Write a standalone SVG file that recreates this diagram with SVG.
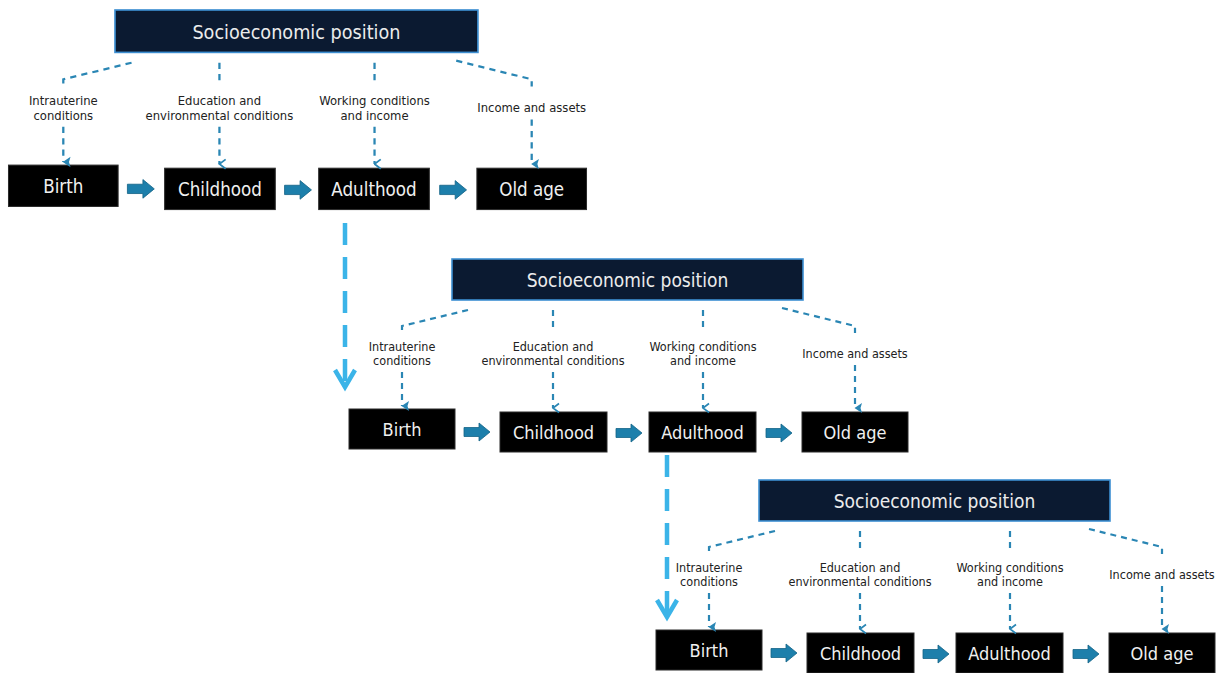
<svg xmlns="http://www.w3.org/2000/svg" width="1222" height="673" viewBox="0 0 1222 673">
  <style>
    .sep rect { fill: #0b1a31; stroke: #3d8fd2; stroke-width: 1.6; }
    .sep text { fill: #ececec; font-family: "DejaVu Sans Condensed", "DejaVu Sans", "Liberation Sans", sans-serif; font-stretch: condensed; font-size: 19px; text-anchor: middle; }
    .stage rect { fill: #000; stroke: #2b2b2b; stroke-width: 1; }
    .stage text { fill: #f0f0f0; font-family: "DejaVu Sans Condensed", "DejaVu Sans", "Liberation Sans", sans-serif; font-stretch: condensed; font-size: 18px; text-anchor: middle; }
    .lbl { fill: #222; font-family: "DejaVu Sans Condensed", "DejaVu Sans", "Liberation Sans", sans-serif; font-stretch: condensed; font-size: 12.5px; text-anchor: middle; }
    .dash { fill: none; stroke: #2a86b4; stroke-width: 2.2; stroke-dasharray: 6 5; }
    .step { fill: #1d7fab; stroke: #136387; stroke-width: 0.8; }
    .link { fill: none; stroke: #3bb4e8; stroke-width: 4.5; stroke-dasharray: 22 12; }
    .link-head { fill: none; stroke: #3bb4e8; stroke-width: 4.5; stroke-linejoin: miter; }
  </style>
  <defs>
    <marker id="tri" viewBox="0 0 12 12" refX="6" refY="11" markerWidth="12" markerHeight="12" markerUnits="userSpaceOnUse" orient="auto-start-reverse">
      <path d="M1,4 L6,11.5 L11,4 L6,5.5 Z" fill="#2a86b4"/>
    </marker>
    <marker id="chev" viewBox="0 0 12 12" refX="6" refY="11" markerWidth="12" markerHeight="12" markerUnits="userSpaceOnUse" orient="auto-start-reverse">
      <path d="M1.5,5 L6,11 L10.5,5" fill="none" stroke="#2a86b4" stroke-width="1.7"/>
    </marker>
    <path id="blockArrow" d="M0,-4.5 H15 V-9 L26,0 L15,9 V4.5 H0 Z"/>
  </defs>

  <!-- life-course stage 1 -->
  <g id="course1" transform="translate(115,10) scale(1.034)">
    <g id="sep1" class="sep"><rect x="0" y="0" width="351" height="41"/><text x="175.5" y="28">Socioeconomic position</text></g>
    <g id="birth1" class="stage"><rect x="-103" y="150" width="106" height="40"/><text x="-50" y="177">Birth</text></g>
    <g id="childhood1" class="stage"><rect x="48" y="153" width="107" height="40"/><text x="101.5" y="180">Childhood</text></g>
    <g id="adulthood1" class="stage"><rect x="197" y="153" width="107" height="40"/><text x="250.5" y="180">Adulthood</text></g>
    <g id="oldage1" class="stage"><rect x="350" y="153" width="106" height="40"/><text x="403" y="180">Old age</text></g>
  </g>

  <!-- life-course stage 2 -->
  <g id="course2" transform="translate(452,259)">
    <g id="sep2" class="sep"><rect x="0" y="0" width="351" height="41"/><text x="175.5" y="28">Socioeconomic position</text></g>
    <g id="birth2" class="stage"><rect x="-103" y="150" width="106" height="40"/><text x="-50" y="177">Birth</text></g>
    <g id="childhood2" class="stage"><rect x="48" y="153" width="107" height="40"/><text x="101.5" y="180">Childhood</text></g>
    <g id="adulthood2" class="stage"><rect x="197" y="153" width="107" height="40"/><text x="250.5" y="180">Adulthood</text></g>
    <g id="oldage2" class="stage"><rect x="350" y="153" width="106" height="40"/><text x="403" y="180">Old age</text></g>
  </g>

  <!-- life-course stage 3 -->
  <g id="course3" transform="translate(759,480)">
    <g id="sep3" class="sep"><rect x="0" y="0" width="351" height="41"/><text x="175.5" y="28">Socioeconomic position</text></g>
    <g id="birth3" class="stage"><rect x="-103" y="150" width="106" height="40"/><text x="-50" y="177">Birth</text></g>
    <g id="childhood3" class="stage"><rect x="48" y="153" width="107" height="40"/><text x="101.5" y="180">Childhood</text></g>
    <g id="adulthood3" class="stage"><rect x="197" y="153" width="107" height="40"/><text x="250.5" y="180">Adulthood</text></g>
    <g id="oldage3" class="stage"><rect x="350" y="153" width="106" height="40"/><text x="403" y="180">Old age</text></g>
  </g>

  <g id="connectors">
    <!-- per-course exposures and stage steps -->
    <g id="conn1" transform="translate(115,10) scale(1.034)">
      <polyline class="dash" points="16,51 -50,67 -50,74"/>
      <text class="lbl" x="-50" y="92">Intrauterine</text><text class="lbl" x="-50" y="106">conditions</text>
      <line class="dash" x1="-50" y1="113" x2="-50" y2="147" marker-end="url(#tri)"/>
      <line class="dash" x1="101" y1="51" x2="101" y2="72"/>
      <text class="lbl" x="101" y="92">Education and</text><text class="lbl" x="101" y="106">environmental conditions</text>
      <line class="dash" x1="101" y1="113" x2="101" y2="149" marker-end="url(#chev)"/>
      <line class="dash" x1="251" y1="51" x2="251" y2="72"/>
      <text class="lbl" x="251" y="92">Working conditions</text><text class="lbl" x="251" y="106">and income</text>
      <line class="dash" x1="251" y1="113" x2="251" y2="149" marker-end="url(#chev)"/>
      <polyline class="dash" points="330,49 403,67 403,74"/>
      <text class="lbl" x="403" y="99">Income and assets</text>
      <line class="dash" x1="403" y1="106" x2="403" y2="149" marker-end="url(#tri)"/>
      <use href="#blockArrow" class="step" x="12" y="173"/>
      <use href="#blockArrow" class="step" x="164" y="174"/>
      <use href="#blockArrow" class="step" x="314" y="174"/>
    </g>
    <g id="conn2" transform="translate(452,259)">
      <polyline class="dash" points="16,51 -50,67 -50,74"/>
      <text class="lbl" x="-50" y="92">Intrauterine</text><text class="lbl" x="-50" y="106">conditions</text>
      <line class="dash" x1="-50" y1="113" x2="-50" y2="147" marker-end="url(#tri)"/>
      <line class="dash" x1="101" y1="51" x2="101" y2="72"/>
      <text class="lbl" x="101" y="92">Education and</text><text class="lbl" x="101" y="106">environmental conditions</text>
      <line class="dash" x1="101" y1="113" x2="101" y2="149" marker-end="url(#chev)"/>
      <line class="dash" x1="251" y1="51" x2="251" y2="72"/>
      <text class="lbl" x="251" y="92">Working conditions</text><text class="lbl" x="251" y="106">and income</text>
      <line class="dash" x1="251" y1="113" x2="251" y2="149" marker-end="url(#chev)"/>
      <polyline class="dash" points="330,49 403,67 403,74"/>
      <text class="lbl" x="403" y="99">Income and assets</text>
      <line class="dash" x1="403" y1="106" x2="403" y2="149" marker-end="url(#tri)"/>
      <use href="#blockArrow" class="step" x="12" y="173"/>
      <use href="#blockArrow" class="step" x="164" y="174"/>
      <use href="#blockArrow" class="step" x="314" y="174"/>
    </g>
    <g id="conn3" transform="translate(759,480)">
      <polyline class="dash" points="16,51 -50,67 -50,74"/>
      <text class="lbl" x="-50" y="92">Intrauterine</text><text class="lbl" x="-50" y="106">conditions</text>
      <line class="dash" x1="-50" y1="113" x2="-50" y2="147" marker-end="url(#tri)"/>
      <line class="dash" x1="101" y1="51" x2="101" y2="72"/>
      <text class="lbl" x="101" y="92">Education and</text><text class="lbl" x="101" y="106">environmental conditions</text>
      <line class="dash" x1="101" y1="113" x2="101" y2="149" marker-end="url(#chev)"/>
      <line class="dash" x1="251" y1="51" x2="251" y2="72"/>
      <text class="lbl" x="251" y="92">Working conditions</text><text class="lbl" x="251" y="106">and income</text>
      <line class="dash" x1="251" y1="113" x2="251" y2="149" marker-end="url(#chev)"/>
      <polyline class="dash" points="330,49 403,67 403,74"/>
      <text class="lbl" x="403" y="99">Income and assets</text>
      <line class="dash" x1="403" y1="106" x2="403" y2="149" marker-end="url(#tri)"/>
      <use href="#blockArrow" class="step" x="12" y="173"/>
      <use href="#blockArrow" class="step" x="164" y="174"/>
      <use href="#blockArrow" class="step" x="314" y="174"/>
    </g>
    <!-- adulthood leads into the next generation's birth -->
    <g id="generation-links">
      <line class="link" x1="345" y1="223" x2="345" y2="386"/>
      <polyline class="link-head" points="335,370 345,387 355,370"/>
      <line class="link" x1="667" y1="455" x2="667" y2="616"/>
      <polyline class="link-head" points="657,600 667,617 677,600"/>
    </g>
  </g>
</svg>
